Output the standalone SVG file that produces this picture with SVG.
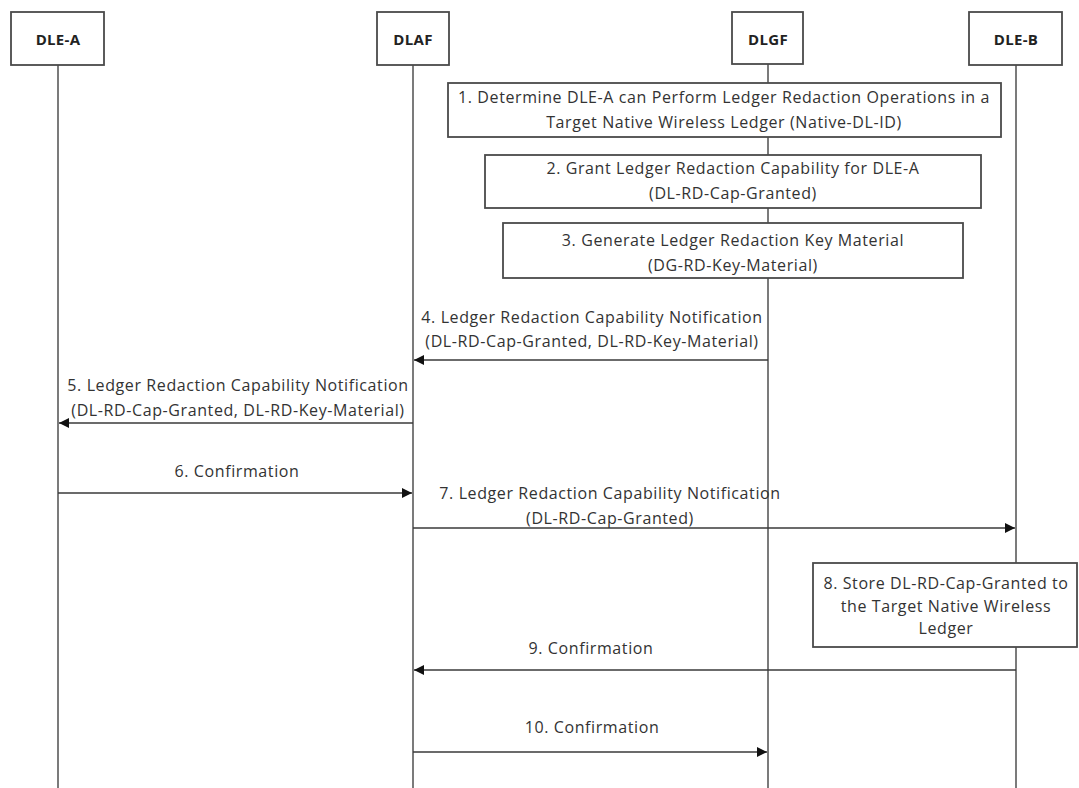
<svg xmlns="http://www.w3.org/2000/svg" width="1079" height="788" viewBox="0 0 1079 788">
<style>
.bg{fill:#ffffff}
.life{stroke:#5a5a5a;stroke-width:1.6;fill:none}
.box{fill:#ffffff;stroke:#4a4a4a;stroke-width:1.8}
.hdr{font-family:"Open Sans","Liberation Sans",sans-serif;font-size:15px;font-weight:bold;letter-spacing:0.3px;fill:#222;text-anchor:middle}
.t{font-family:"Open Sans","Liberation Sans",sans-serif;font-size:16px;letter-spacing:0.6px;fill:#333;text-anchor:middle}
.msg{stroke:#3a3a3a;stroke-width:1.6;fill:none;marker-end:url(#ah)}
</style>
<defs>
<marker id="ah" viewBox="0 0 10 10" refX="10" refY="5" markerWidth="10" markerHeight="10" markerUnits="userSpaceOnUse" orient="auto">
<path d="M0,0 L10,5 L0,10 Z" fill="#111"/>
</marker>
</defs>
<rect class="bg" x="0" y="0" width="1079" height="788"/>
<g id="lifelines">
<line class="life" x1="58" y1="65" x2="58" y2="788"/>
<line class="life" x1="413" y1="65" x2="413" y2="788"/>
<line class="life" x1="768" y1="64" x2="768" y2="788"/>
<line class="life" x1="1016" y1="65" x2="1016" y2="788"/>
</g>
<g id="node-dle-a"><rect class="box" x="11" y="12" width="93" height="53"/><text class="hdr" x="58" y="45">DLE-A</text></g>
<g id="node-dlaf"><rect class="box" x="377" y="12" width="72" height="53"/><text class="hdr" x="413" y="45">DLAF</text></g>
<g id="node-dlgf"><rect class="box" x="732" y="12" width="71" height="52"/><text class="hdr" x="768" y="45">DLGF</text></g>
<g id="node-dle-b"><rect class="box" x="969" y="12" width="93" height="53"/><text class="hdr" x="1016" y="45">DLE-B</text></g>
<g id="step1"><rect class="box" x="448" y="83" width="553" height="54"/>
<text class="t" x="724" y="103">1. Determine DLE-A can Perform Ledger Redaction Operations in a</text>
<text class="t" x="724" y="128">Target Native Wireless Ledger (Native-DL-ID)</text></g>
<g id="step2"><rect class="box" x="485" y="155" width="496" height="53"/>
<text class="t" x="733" y="174">2. Grant Ledger Redaction Capability for DLE-A</text>
<text class="t" x="733" y="199">(DL-RD-Cap-Granted)</text></g>
<g id="step3"><rect class="box" x="503" y="223" width="460" height="55"/>
<text class="t" x="733" y="246">3. Generate Ledger Redaction Key Material</text>
<text class="t" x="733" y="271">(DG-RD-Key-Material)</text></g>
<g id="step8"><rect class="box" x="813" y="563" width="264" height="84"/>
<text class="t" x="946" y="589">8. Store DL-RD-Cap-Granted to</text>
<text class="t" x="946" y="612">the Target Native Wireless</text>
<text class="t" x="946" y="634">Ledger</text></g>
<g id="connectors">
<line class="msg" x1="768" y1="360" x2="414" y2="360"/>
<line class="msg" x1="413" y1="423" x2="59" y2="423"/>
<line class="msg" x1="58" y1="493" x2="412" y2="493"/>
<line class="msg" x1="413" y1="528" x2="1015" y2="528"/>
<line class="msg" x1="1016" y1="670" x2="414" y2="670"/>
<line class="msg" x1="413" y1="752" x2="767" y2="752"/>
</g>
<g id="labels">
<text class="t" x="592" y="323">4. Ledger Redaction Capability Notification</text>
<text class="t" x="592" y="347">(DL-RD-Cap-Granted, DL-RD-Key-Material)</text>
<text class="t" x="238" y="391">5. Ledger Redaction Capability Notification</text>
<text class="t" x="238" y="416">(DL-RD-Cap-Granted, DL-RD-Key-Material)</text>
<text class="t" x="237" y="477">6. Confirmation</text>
<text class="t" x="610" y="499">7. Ledger Redaction Capability Notification</text>
<text class="t" x="610" y="524">(DL-RD-Cap-Granted)</text>
<text class="t" x="591" y="654">9. Confirmation</text>
<text class="t" x="592" y="733">10. Confirmation</text>
</g>
</svg>
